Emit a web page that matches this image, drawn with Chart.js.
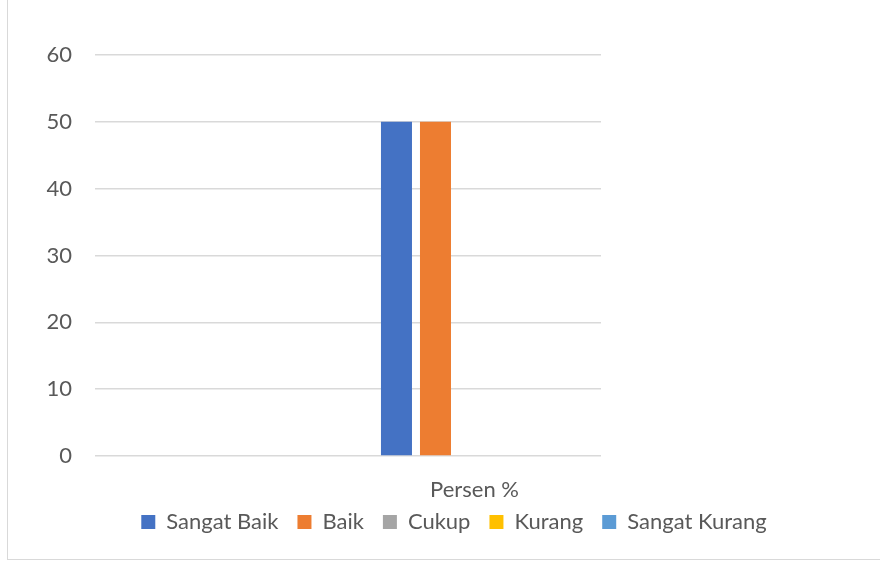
<!DOCTYPE html>
<html>
<head>
<meta charset="utf-8">
<script src="https://cdn.jsdelivr.net/npm/chart.js@4.4.1/dist/chart.umd.min.js"></script>
<style>
  html, body { margin: 0; padding: 0; background: #ffffff; overflow: hidden; }
  #wrap { width: 880px; height: 561px; position: relative; }
</style>
</head>
<body>
<div id="wrap"><canvas id="c" width="880" height="561"></canvas></div>
<script>
// ---- data ----
const categories = ["", "Persen %"];
const seriesNames = ["Sangat Baik", "Baik", "Cukup", "Kurang", "Sangat Kurang"];
const sangatBaik = [0, 50];
const baik = [0, 50];
const cukup = [0, 0];
const kurang = [0, 0];
const sangatKurang = [0, 0];
const yTicks = [0, 10, 20, 30, 40, 50, 60];

// ---- styles ----
const seriesColors = ["#4472C4", "#ED7D31", "#A5A5A5", "#FFC000", "#5B9BD5"];
const seriesValues = [sangatBaik, baik, cukup, kurang, sangatKurang];
const textColor = "#595959";
const gridColor = "#D9D9D9";

Chart.defaults.font.family = "Lato, 'Open Sans', sans-serif";
Chart.defaults.color = textColor;

const framePlugin = {
  id: "frame",
  afterLayout(chart) {
    const lg = chart.legend;
    if (lg) {
      const h = lg.bottom - lg.top;
      lg.top = 492;
      lg.bottom = lg.top + h;
    }
  },
  afterDraw(chart) {
    const ctx = chart.ctx;
    ctx.save();
    ctx.fillStyle = "#D9D9D9";
    ctx.fillRect(7, 0, 1, 560);
    ctx.fillRect(7, 559, 873, 1);
    ctx.restore();
  }
};

new Chart(document.getElementById("c"), {
  type: "bar",
  data: {
    labels: categories,
    datasets: seriesNames.map((name, i) => ({
      label: name,
      data: seriesValues[i],
      backgroundColor: seriesColors[i],
      borderWidth: 0,
      categoryPercentage: 0.771,
      barPercentage: 0.795
    }))
  },
  options: {
    responsive: false,
    animation: false,
    layout: { padding: { top: 55, left: 28, right: 0, bottom: 10 } },
    scales: {
      x: {
        grid: { display: false, drawTicks: false },
        border: { display: false },
        ticks: { font: { size: 22 }, color: textColor, padding: 21 },
        afterFit(s) { s.height = 45; }
      },
      y: {
        min: 0,
        max: 60,
        grid: { color: gridColor, lineWidth: 1.5, drawTicks: false },
        border: { display: false },
        ticks: { font: { size: 22 }, color: textColor, padding: 23 },
        afterBuildTicks(s) { s.ticks = yTicks.map(v => ({ value: v })); },
        afterFit(s) { s.width = 67; }
      },
      yRight: {
        position: "right",
        display: true,
        grid: { display: false, drawTicks: false },
        border: { display: false },
        ticks: { display: false },
        afterFit(s) { s.width = 279; }
      }
    },
    plugins: {
      legend: {
        position: "bottom",
        maxHeight: 50,
        labels: {
          boxWidth: 14,
          boxHeight: 14,
          padding: 19,
          color: textColor,
          font: { size: 22 }
        }
      },
      tooltip: { enabled: false }
    }
  },
  plugins: [framePlugin]
});
</script>
</body>
</html>
